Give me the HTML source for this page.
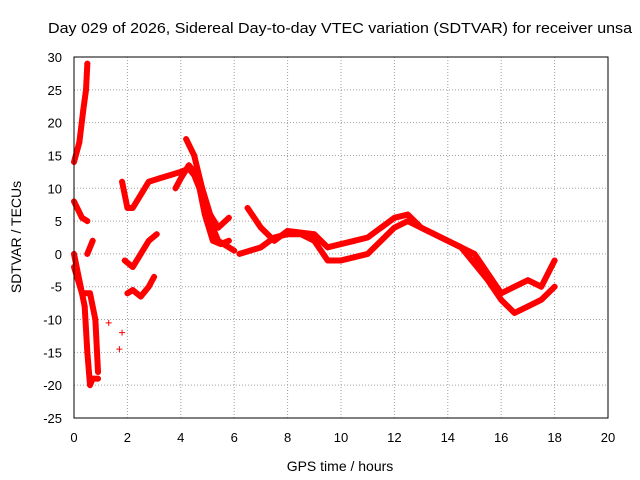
<!DOCTYPE html>
<html><head><meta charset="utf-8"><style>
body{margin:0;background:#fff;}
svg{display:block;font-family:"Liberation Sans",sans-serif;}
</style></head><body>
<svg id="chart" width="640" height="480">
<text x="48" y="33" font-size="14.5" textLength="584" lengthAdjust="spacingAndGlyphs">Day 029 of 2026, Sidereal Day-to-day VTEC variation (SDTVAR) for receiver unsa</text>
<g id="grid"></g>
<g id="ticks"></g>
<g id="series"></g>
<rect x="74" y="57" width="534" height="361" fill="none" stroke="#000"/>
<text x="340" y="471" font-size="14" text-anchor="middle">GPS time / hours</text>
<text transform="translate(21,237) rotate(-90)" font-size="14" text-anchor="middle">SDTVAR / TECUs</text>
</svg>
<script>
const xTicks=[0,2,4,6,8,10,12,14,16,18,20];
const yTicks=[30,25,20,15,10,5,0,-5,-10,-15,-20,-25];
const s1=[[0,0],[0.2,-4],[0.4,-8],[0.5,-15],[0.6,-20],[0.7,-19],[0.9,-19]];
const s2=[[0,-2],[0.3,-6],[0.6,-6],[0.8,-10],[0.9,-18]];
const s3=[[0,14],[0.2,17],[0.35,22],[0.45,25],[0.5,29]];
const s4=[[0,8],[0.3,5.5],[0.5,5]];
const s5=[[0.5,0],[0.7,2]];
const s6=[[1.3,-10.5],[1.7,-14.5],[1.8,-12]];
const s7=[[1.8,11],[2.0,7],[2.2,7],[2.5,9],[2.8,11],[3.2,11.5],[3.6,12],[4.0,12.5],[4.3,13],[4.5,12],[4.8,9],[5.1,5],[5.4,2],[5.8,1],[6.0,0.5]];
const s8=[[3.8,10],[4.0,11.5],[4.3,13.5],[4.6,12],[4.9,6],[5.2,2],[5.5,1.5],[5.8,2]];
const s9=[[4.2,17.5],[4.5,15],[4.8,10],[5.1,6],[5.4,4],[5.8,5.5]];
const s10=[[1.9,-1],[2.2,-2],[2.5,0],[2.8,2],[3.1,3]];
const s11=[[2.0,-6],[2.2,-5.5],[2.5,-6.5],[2.8,-5],[3.0,-3.5]];
const s12=[[6.2,0],[7,1],[7.5,2.5],[8,3],[8.5,3],[9,2],[9.5,-1],[10,-1],[10.5,-0.5],[11,0],[11.5,2],[12,4],[12.5,5],[13,4],[14,2],[14.5,1],[15,-1.5],[15.5,-4],[16,-7],[16.5,-9],[17,-8],[17.5,-7],[18,-5]];
const s13=[[6.5,7],[7,4],[7.5,2],[8,3.5],[9,3],[9.5,1],[10,1.5],[10.5,2],[11,2.5],[11.5,4],[12,5.5],[12.5,6],[13,4],[13.5,3],[14,2],[15,0],[15.5,-3],[16,-6],[16.5,-5],[17,-4],[17.5,-5],[18,-1]];
const allSeries=[s1,s2,s3,s4,s5,s7,s8,s9,s10,s11,s12,s13];
const X=v=>74+v*(534/20);
const Y=v=>57+(30-v)*(361/55);
const NS="http://www.w3.org/2000/svg";
const g=document.getElementById('grid'),t=document.getElementById('ticks'),sg=document.getElementById('series');
function mk(tag,at,p){const e=document.createElementNS(NS,tag);for(const k in at)e.setAttribute(k,at[k]);p.appendChild(e);return e;}
xTicks.forEach(v=>{
 const l=mk('line',{x1:X(v),x2:X(v),y1:57,y2:418,stroke:'#a0a0a0','stroke-dasharray':'1,2'},g);
 
 
 const tx=mk('text',{x:X(v),y:442,'font-size':13,'text-anchor':'middle'},t);
 tx.textContent=v;
 
 
});
yTicks.forEach(v=>{
 const l=mk('line',{x1:74,x2:608,y1:Y(v),y2:Y(v),stroke:'#a0a0a0','stroke-dasharray':'1,2'},g);
 
 
 const tx=mk('text',{x:62,y:Y(v)+5,'font-size':13,'text-anchor':'end'},t);
 tx.textContent=v;
 
 
});
allSeries.forEach(s=>{
 const p=mk('polyline',{points:s.map(d=>X(d[0])+','+Y(d[1])).join(' '),fill:'none',stroke:'#f00','stroke-width':6,'stroke-linejoin':'round','stroke-linecap':'round'},sg);
 
 
});
[...allSeries,s6].forEach(s=>s.forEach(d=>{
 const x=X(d[0]),y=Y(d[1]);
 const m=mk('path',{d:`M${x-3},${y}H${x+3}M${x},${y-3}V${y+3}`,stroke:'#f00','stroke-width':1},sg);
 
 
}));
</script>
</body></html>
